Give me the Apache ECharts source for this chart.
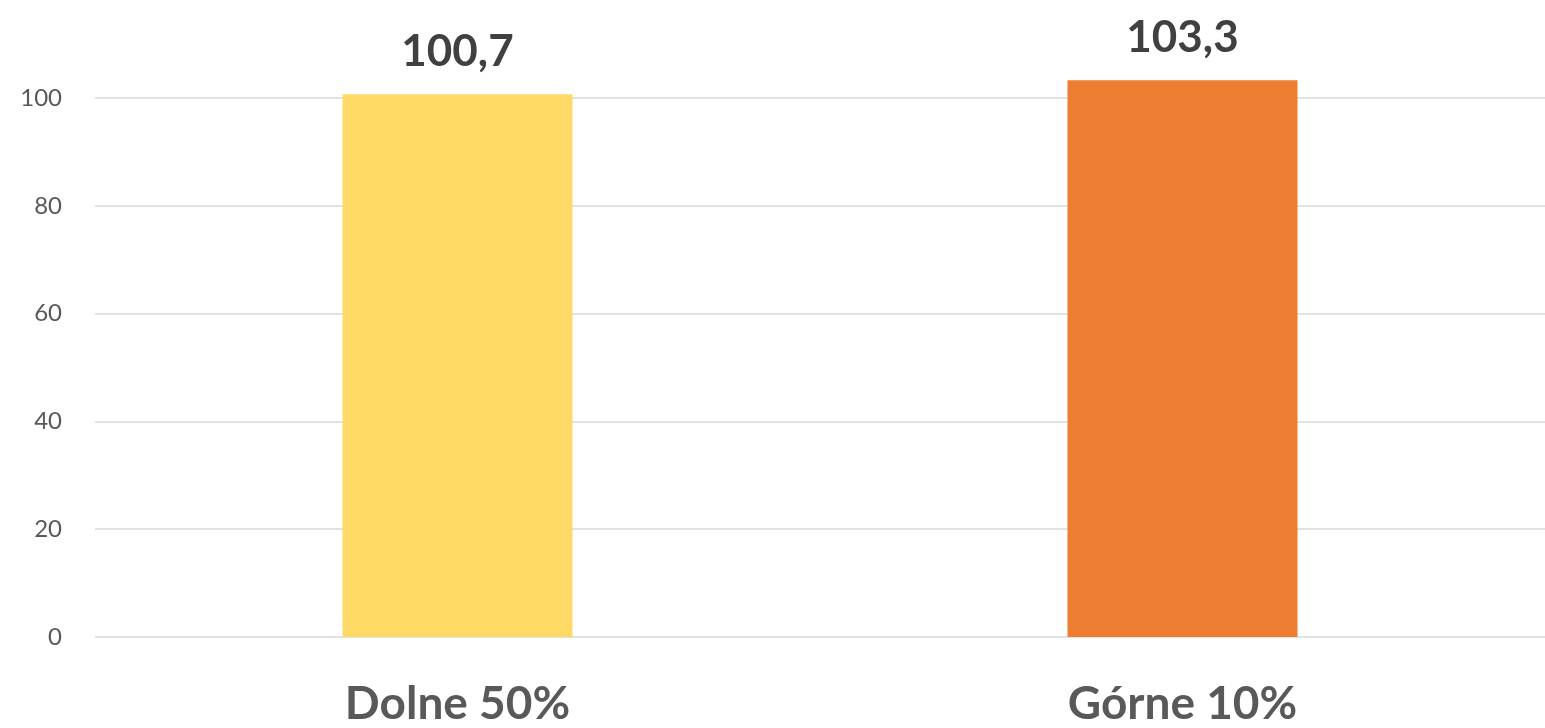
<!DOCTYPE html>
<html>
<head>
<meta charset="utf-8">
<script src="https://cdn.jsdelivr.net/npm/echarts@6/dist/echarts.min.js"></script>
<style>
html,body{margin:0;padding:0;background:#fff;}
#chart{width:1545px;height:728px;}
</style>
</head>
<body>
<div id="chart"></div>
<script>
const categories = ['Dolne 50%', 'Górne 10%'];
const values = [100.7, 103.3];
const barColors = ['#FFD966', '#ED7D31'];
const yTicks = { min: 0, max: 100, interval: 20 };

const chart = echarts.init(document.getElementById('chart'));
chart.setOption({
  animation: false,
  grid: { left: 95, width: 1456, top: 98, height: 539 },
  xAxis: {
    type: 'category',
    data: categories,
    axisLine: { show: false },
    axisTick: { show: false },
    axisLabel: {
      margin: 44,
      fontFamily: 'Lato',
      fontWeight: 'bold',
      fontSize: 46,
      color: '#595959'
    }
  },
  yAxis: {
    type: 'value',
    min: yTicks.min,
    max: yTicks.max,
    interval: yTicks.interval,
    axisLine: { show: false },
    axisTick: { show: false },
    axisLabel: {
      margin: 33,
      fontFamily: 'Lato',
      fontSize: 24,
      color: '#595959'
    },
    splitLine: { lineStyle: { color: '#d9d9d9', width: 1.5 } }
  },
  series: [{
    type: 'bar',
    clip: false,
    barWidth: 230,
    data: values.map((v, i) => ({ value: v, itemStyle: { color: barColors[i] } })),
    label: {
      show: true,
      position: 'top',
      distance: 20,
      fontFamily: 'Lato',
      fontWeight: 'bold',
      fontSize: 44,
      color: '#404040',
      formatter: p => String(p.value).replace('.', ',')
    }
  }]
});
</script>
</body>
</html>
